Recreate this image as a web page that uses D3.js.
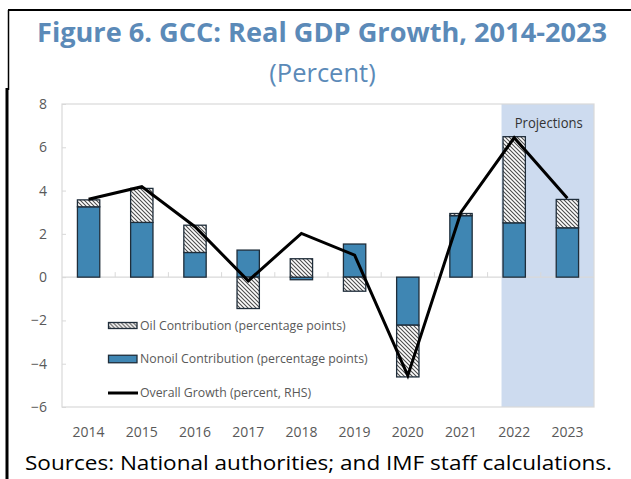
<!DOCTYPE html>
<html>
<head>
<meta charset="utf-8">
<script src="https://cdn.jsdelivr.net/npm/d3@7"></script>
<style>
  body { margin: 0; background: #fff; }
  svg { display: block; }
</style>
</head>
<body>
<div id="chart"></div>
<script>
// data
const years = ["2014", "2015", "2016", "2017", "2018", "2019", "2020", "2021", "2022", "2023"];
const oil = [0.32, 1.57, 1.26, -1.45, 0.85, -0.65, -2.39, 0.1, 3.98, 1.31];
const nonoil = [3.25, 2.53, 1.14, 1.25, -0.12, 1.53, -2.22, 2.84, 2.51, 2.28];
const overall = [3.6, 4.18, 2.33, -0.17, 2.02, 1.02, -4.55, 3.0, 6.44, 3.64];
const yTicks = [-6, -4, -2, 0, 2, 4, 6, 8];
const projectionYears = ["2022", "2023"];
const legendItems = [
    {key: "oil", label: "Oil Contribution (percentage points)"},
    {key: "nonoil", label: "Nonoil Contribution (percentage points)"},
    {key: "line", label: "Overall Growth (percent, RHS)"}
];

const w = 631, h = 479;
const margin = {left: 62, right: 37, top: 104, bottom: 72};
const blue = "#5b8ab8";
const grey = "#595959";

let svg = d3.select("#chart").append("svg")
    .attr("width", w)
    .attr("height", h)
    .style("font-family", "'Open Sans', 'Noto Sans', sans-serif");

// hatch pattern for oil contribution
let defs = svg.append("defs");
let pat = defs.append("pattern")
    .attr("id", "hatch")
    .attr("patternUnits", "userSpaceOnUse")
    .attr("width", 4)
    .attr("height", 4);
pat.append("rect").attr("width", 4).attr("height", 4).attr("fill", "#fff");
pat.append("path")
    .attr("d", "M-1,-1L5,5M-1,3L1,5M3,-1L5,1")
    .attr("stroke", "#4d4d4d")
    .attr("stroke-width", 1.1);

// frame lines of the page
svg.append("line").attr("x1", 8).attr("y1", 10).attr("x2", w).attr("y2", 10)
    .attr("stroke", "#000").attr("stroke-width", 2);
svg.append("line").attr("x1", 8.5).attr("y1", 10).attr("x2", 8.5).attr("y2", 90)
    .attr("stroke", "#000").attr("stroke-width", 1.5);
svg.append("line").attr("x1", 7).attr("y1", 88).attr("x2", 7).attr("y2", h)
    .attr("stroke", "#000").attr("stroke-width", 3);

// titles (stretched to the width they take in the figure)
svg.append("text")
    .attr("x", 37).attr("y", 42)
    .attr("fill", blue)
    .attr("font-weight", "bold")
    .attr("font-size", 26)
    .attr("textLength", 570)
    .attr("lengthAdjust", "spacingAndGlyphs")
    .text("Figure 6. GCC: Real GDP Growth, 2014-2023");
svg.append("text")
    .attr("x", 322.5).attr("y", 82)
    .attr("text-anchor", "middle")
    .attr("fill", blue)
    .attr("font-size", 25.5)
    .text("(Percent)");

// scales
let x = d3.scaleBand()
    .domain(years)
    .range([margin.left, w - margin.right])
    .paddingInner(0.58)
    .paddingOuter(0.29);
let y = d3.scaleLinear()
    .domain([-6, 8])
    .range([h - margin.bottom, margin.top]);
let step = x.step();
let cx = d => x(d) + x.bandwidth() / 2;

// projections shading
let px0 = x(projectionYears[0]) - 1.5;
svg.append("rect")
    .attr("x", px0)
    .attr("y", y(8))
    .attr("width", (w - margin.right) - px0)
    .attr("height", y(-6) - y(8))
    .attr("fill", "#cddbef");
svg.append("text")
    .attr("x", (px0 + w - margin.right) / 2 + 1)
    .attr("y", 128)
    .attr("text-anchor", "middle")
    .attr("fill", "#333")
    .attr("font-size", 14.5)
    .attr("textLength", 68)
    .attr("lengthAdjust", "spacingAndGlyphs")
    .text("Projections");

// plot frame
svg.append("rect")
    .attr("x", margin.left).attr("y", y(8))
    .attr("width", w - margin.right - margin.left)
    .attr("height", y(-6) - y(8))
    .attr("fill", "none")
    .attr("stroke", "#d9d9d9")
    .attr("stroke-width", 1.2);

// y axis
let yAxis = svg.append("g")
    .attr("transform", `translate(${margin.left},0)`)
    .call(d3.axisRight(y).tickValues(yTicks).tickSize(4).tickFormat(d3.format("d")));
yAxis.select(".domain").remove();
yAxis.selectAll(".tick line").attr("stroke", "#d9d9d9");
yAxis.selectAll(".tick text")
    .attr("x", -15)
    .attr("text-anchor", "end")
    .attr("fill", grey)
    .attr("font-size", 14)
    .style("font-family", "'Open Sans', sans-serif");

// zero line with small ticks at category boundaries
svg.append("line")
    .attr("x1", margin.left).attr("x2", w - margin.right)
    .attr("y1", y(0)).attr("y2", y(0))
    .attr("stroke", "#d9d9d9").attr("stroke-width", 1.2);
svg.append("g").selectAll("line")
    .data(years.slice(1))
    .join("line")
    .attr("x1", d => x(d) - step * 0.29)
    .attr("x2", d => x(d) - step * 0.29)
    .attr("y1", y(0))
    .attr("y2", y(0) - 5)
    .attr("stroke", "#d9d9d9");

// x labels
svg.append("g").selectAll("text")
    .data(years)
    .join("text")
    .attr("x", d => cx(d))
    .attr("y", 437)
    .attr("text-anchor", "middle")
    .attr("fill", grey)
    .attr("font-size", 14)
    .text(d => d);

// stacked bars: positives stack up from 0, negatives down from 0
let segs = [];
years.forEach((yr, i) => {
    let pos = 0, neg = 0;
    [["nonoil", nonoil[i]], ["oil", oil[i]]].forEach(([k, v]) => {
        let y0, y1;
        if (v >= 0) { y0 = pos; y1 = pos + v; pos = y1; }
        else { y0 = neg; y1 = neg + v; neg = y1; }
        segs.push({year: yr, key: k, y0: y0, y1: y1});
    });
});
svg.append("g").selectAll("rect")
    .data(segs)
    .join("rect")
    .attr("x", d => x(d.year))
    .attr("width", x.bandwidth())
    .attr("y", d => y(Math.max(d.y0, d.y1)))
    .attr("height", d => Math.abs(y(d.y0) - y(d.y1)))
    .attr("fill", d => d.key == "oil" ? "url(#hatch)" : "#3f86b3")
    .attr("stroke", "#1f2d3a")
    .attr("stroke-width", 1.3);

// overall growth line
let line = d3.line()
    .x((d, i) => cx(years[i]))
    .y(d => y(d));
svg.append("path")
    .datum(overall)
    .attr("fill", "none")
    .attr("stroke", "#000")
    .attr("stroke-width", 3)
    .attr("stroke-linejoin", "miter")
    .attr("d", line);

// legend
let lg = svg.append("g").attr("transform", "translate(108,0)");
let legendY = [325.5, 359, 393];
legendItems.forEach((item, i) => {
    let g = lg.append("g").attr("transform", `translate(0,${legendY[i]})`);
    if (item.key == "line") {
        g.append("line").attr("x1", 0).attr("x2", 30).attr("y1", 0).attr("y2", 0)
            .attr("stroke", "#000").attr("stroke-width", 3);
    } else {
        let bh = item.key == "oil" ? 6 : 7.5;
        g.append("rect").attr("x", 0.5).attr("y", -bh / 2).attr("width", 28.5).attr("height", bh)
            .attr("fill", item.key == "oil" ? "url(#hatch)" : "#3f86b3")
            .attr("stroke", "#1f2d3a").attr("stroke-width", 1.3);
    }
    g.append("text")
        .attr("x", 32)
        .attr("dy", "0.35em")
        .attr("fill", grey)
        .attr("font-size", 12.3)
        .text(item.label);
});

// source note
svg.append("text")
    .attr("x", 25).attr("y", 469.5)
    .attr("fill", "#000")
    .attr("font-size", 20.5)
    .attr("textLength", 587)
    .attr("lengthAdjust", "spacingAndGlyphs")
    .text("Sources: National authorities; and IMF staff calculations.");
</script>
</body>
</html>
